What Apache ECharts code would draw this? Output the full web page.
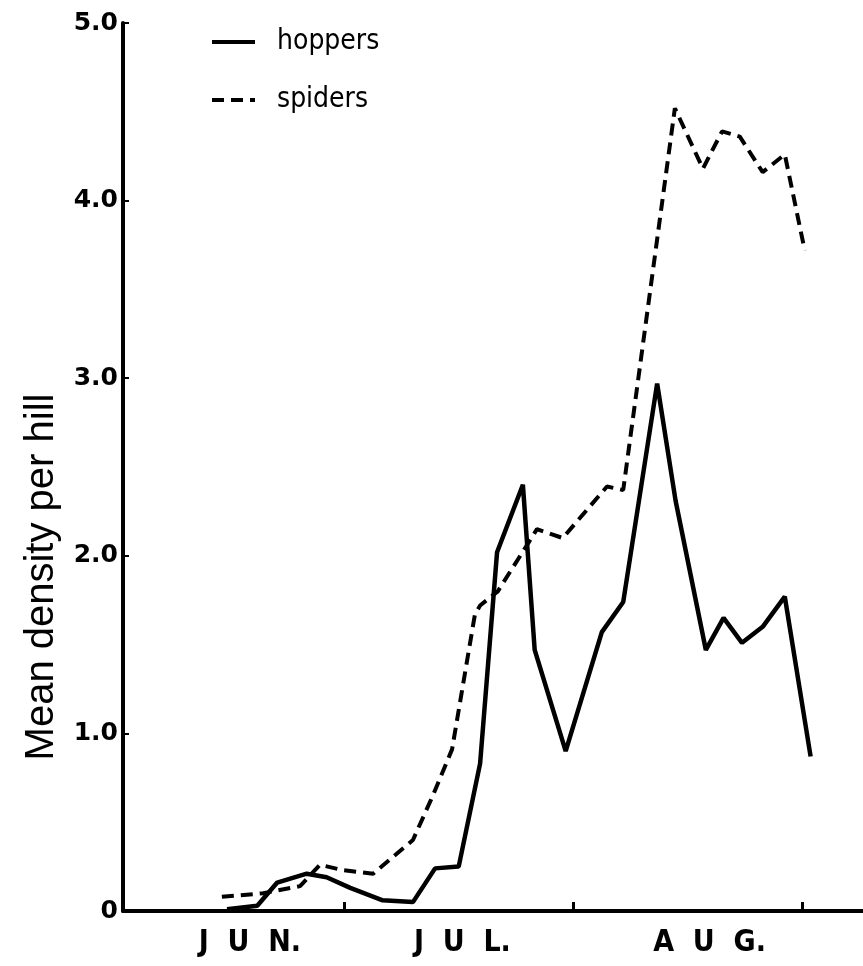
<!DOCTYPE html>
<html>
<head>
<meta charset="utf-8">
<script src="https://cdn.jsdelivr.net/npm/echarts@6/dist/echarts.min.js"></script>
<style>html,body{margin:0;padding:0;background:#fff}#c{width:863px;height:966px}</style>
</head>
<body>
<div id="c"></div>
<script>
// x = days after 1 June
const monthLabels = ['J  U  N.', 'J  U  L.', 'A  U  G.'];
const monthLabelDays = [17.2, 46, 79.5];
const monthBoundaryDays = [30, 61, 92];
const yTicks = [0, 1, 2, 3, 4, 5];

const hopperDays = [14.1, 18.2, 20.9, 24.9, 27.6, 30.8, 35.2, 39.3, 42.3, 45.5, 48.4, 50.7, 54.2, 55.8, 60.0, 64.9, 67.8, 72.4, 74.9, 79.0, 81.4, 83.9, 86.7, 89.7, 93.2];
const hopperVals = [0.01, 0.03, 0.16, 0.21, 0.19, 0.13, 0.06, 0.05, 0.24, 0.25, 0.83, 2.02, 2.40, 1.47, 0.90, 1.57, 1.74, 2.97, 2.31, 1.47, 1.65, 1.51, 1.60, 1.77, 0.87];

const spiderDays = [13.4, 19.0, 24.0, 26.7, 29.8, 33.9, 39.3, 42.0, 44.6, 47.7, 48.4, 50.8, 54.9, 56.1, 59.6, 65.6, 67.8, 74.8, 78.6, 81.2, 83.6, 86.7, 89.7, 92.4];
const spiderVals = [0.08, 0.10, 0.14, 0.26, 0.23, 0.21, 0.40, 0.65, 0.91, 1.67, 1.72, 1.80, 2.07, 2.15, 2.10, 2.39, 2.37, 4.52, 4.18, 4.39, 4.36, 4.16, 4.26, 3.72];

const zip = (a, b) => a.map((x, i) => [x, b[i]]);

const condensed = '"DejaVu Sans Condensed", "Liberation Sans Narrow", "Liberation Sans", sans-serif';

const chart = echarts.init(document.getElementById('c'), null, {renderer: 'canvas'});
chart.setOption({
  animation: false,
  backgroundColor: '#fff',
  grid: {left: 123, right: 0, top: 23, bottom: 55, containLabel: false},
  legend: {
    orient: 'vertical',
    left: 210,
    top: 28,
    padding: 0,
    itemWidth: 43,
    itemHeight: 32,
    itemGap: 30,
    lineStyle: {width: 4},
    itemStyle: {color: 'rgba(0,0,0,0)', borderWidth: 0, opacity: 0},
    textStyle: {fontFamily: condensed, fontSize: 28, color: '#000', padding: [0, 0, 0, 17]},
    data: ['hoppers', 'spiders']
  },
  xAxis: {
    type: 'value',
    min: 0,
    max: 100.3,
    splitLine: {show: false},
    axisLine: {onZero: false, lineStyle: {color: '#000', width: 4}},
    axisTick: {show: true, inside: true, length: 9, lineStyle: {color: '#000', width: 3}, customValues: monthBoundaryDays},
    axisLabel: {
      customValues: monthLabelDays,
      margin: 17,
      formatter: (v) => monthLabels[monthLabelDays.indexOf(v)] || '',
      fontFamily: condensed,
      fontWeight: 'bold',
      fontSize: 30,
      color: '#000'
    }
  },
  yAxis: {
    type: 'value',
    min: 0,
    max: 5,
    interval: 1,
    splitLine: {show: false},
    axisLine: {lineStyle: {color: '#000', width: 4}},
    axisTick: {inside: true, length: 6, lineStyle: {color: '#000', width: 2}},
    axisLabel: {
      customValues: yTicks,
      margin: 5,
      formatter: (v) => v === 0 ? '0' : v.toFixed(1),
      fontFamily: 'DejaVu Sans, sans-serif',
      fontWeight: 'bold',
      fontSize: 25,
      color: '#000'
    }
  },
  graphic: [{
    type: 'text',
    x: 42,
    y: 577,
    rotation: Math.PI / 2,
    style: {
      text: 'Mean density per hill',
      font: '40px "Liberation Sans", Arial, sans-serif',
      fill: '#000',
      textAlign: 'center',
      textVerticalAlign: 'middle'
    }
  }],
  series: [
    {
      name: 'hoppers',
      type: 'line',
      data: zip(hopperDays, hopperVals),
      symbol: 'none',
      color: '#000',
      lineStyle: {color: '#000', width: 4.5, type: 'solid'}
    },
    {
      name: 'spiders',
      type: 'line',
      data: zip(spiderDays, spiderVals),
      symbol: 'none',
      color: '#000',
      lineStyle: {color: '#000', width: 4, type: [12, 7]}
    }
  ]
});
</script>
</body>
</html>
